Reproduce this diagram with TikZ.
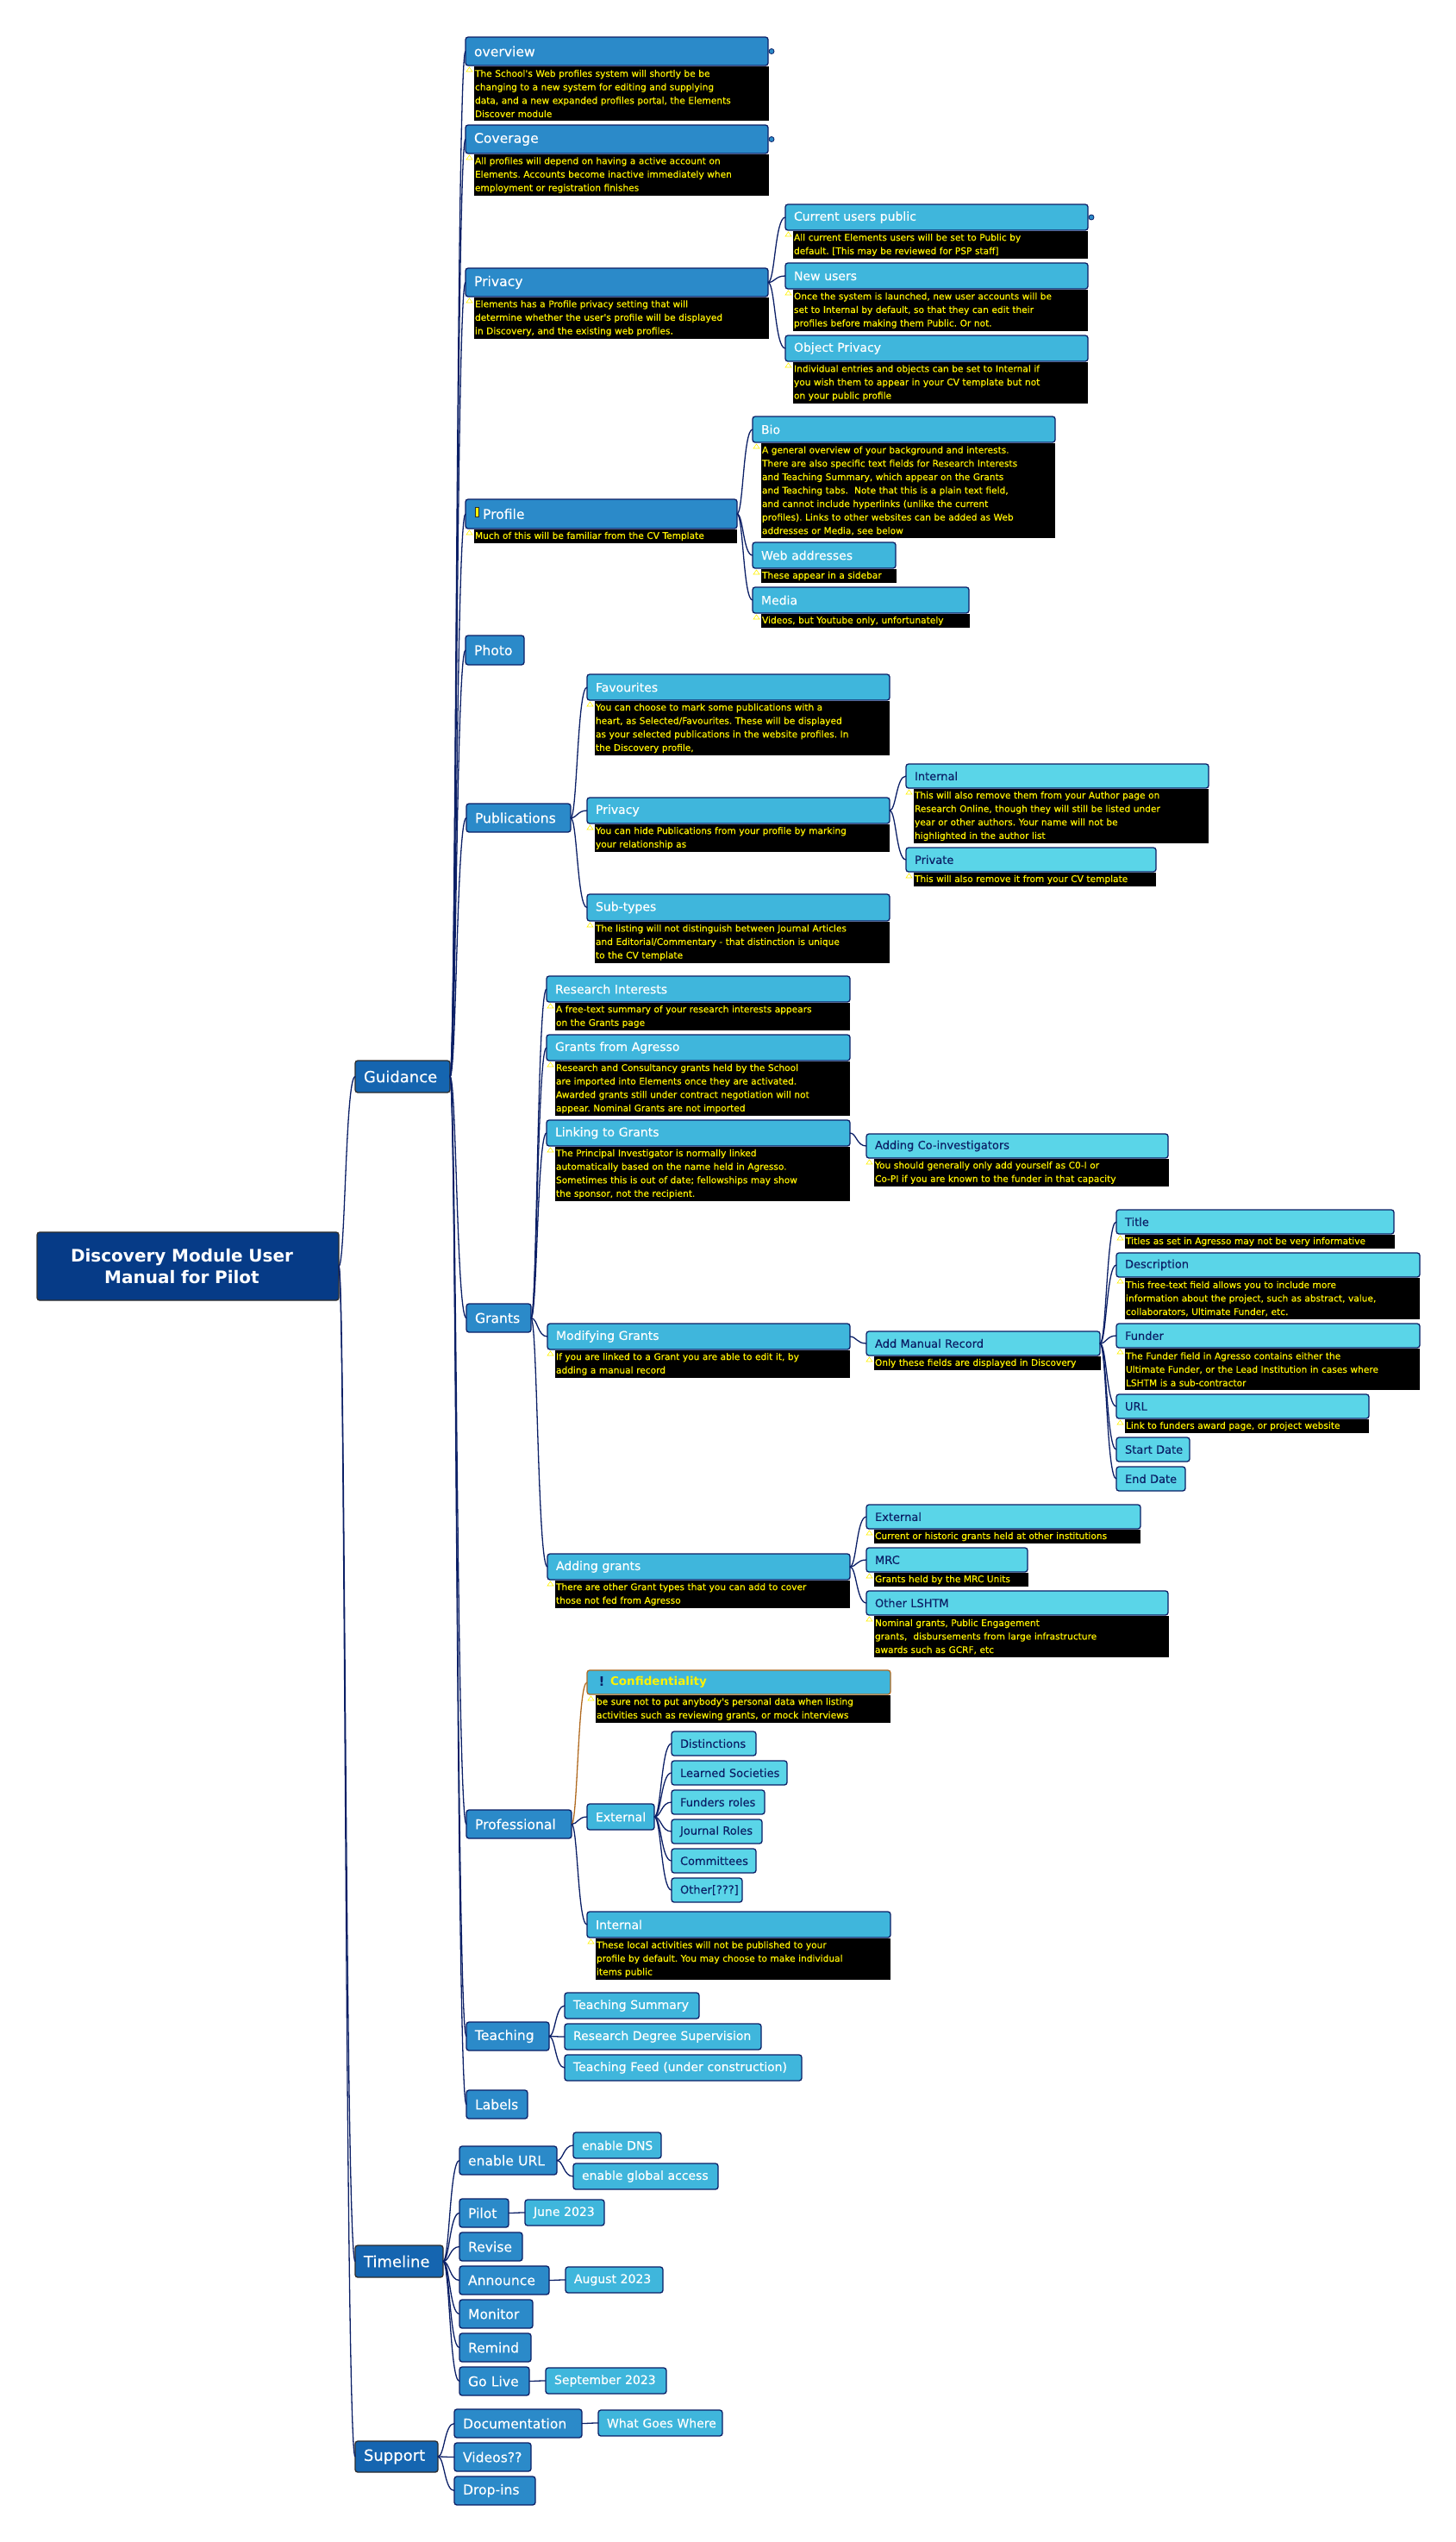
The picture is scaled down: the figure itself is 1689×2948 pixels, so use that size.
\documentclass[tikz,border=0pt]{standalone}
\usepackage{fontspec}
\setmainfont{DejaVu Sans}
\newfontfamily\notefont[FakeBold=0.35]{DejaVu Sans}
\newfontfamily\labelfont[FakeBold=0.2]{DejaVu Sans}
\usetikzlibrary{calc}
\frenchspacing
\definecolor{rootblue}{HTML}{063B87}
\definecolor{mainblue}{HTML}{1565B0}
\definecolor{topicblue}{HTML}{2B8AC9}
\definecolor{subblue}{HTML}{3FB6DC}
\definecolor{leafblue}{HTML}{5AD5E8}
\definecolor{edgenavy}{HTML}{0B1F66}
\definecolor{edgegrey}{HTML}{2C2C2C}
\definecolor{warnbrown}{HTML}{B06A20}
\tikzstyle{anybox} = [rounded corners=3pt, line width=1.3pt, anchor=north west, outer sep=0pt,
    inner xsep=2pt, inner ysep=0pt, align=left, execute at begin node={\hspace*{8pt}}]
\tikzstyle{rootbox} = [anybox, draw=edgegrey, fill=rootblue, text=white, execute at begin node={},
    font=\fontsize{20}{25}\selectfont\bfseries, align=center]
\tikzstyle{mainbox} = [anybox, draw=edgegrey, fill=mainblue, text=white, font=\labelfont\fontsize{18}{22}\selectfont]
\tikzstyle{topicbox} = [anybox, draw=edgenavy, fill=topicblue, text=white, font=\labelfont\fontsize{15.6}{19}\selectfont]
\tikzstyle{subbox} = [anybox, draw=edgenavy, fill=subblue, text=white, font=\labelfont\fontsize{14}{18}\selectfont]
\tikzstyle{leafbox} = [anybox, draw=edgenavy, fill=leafblue, text=edgenavy, font=\labelfont\fontsize{13}{17}\selectfont]
\tikzstyle{notebox} = [anchor=north west, outer sep=0pt, fill=black, text=yellow, inner xsep=1pt, inner ysep=0pt,
    align=left, font=\notefont\fontsize{10.6}{15.6}\selectfont]
\tikzstyle{link} = [draw=edgenavy, line width=1.3pt, to path={let \p1=(\tikztostart), \p2=(\tikztotarget),
    \n1={\x1+0.4*(\x2-\x1)} in .. controls (\n1,\y1) and (\n1,\y2) .. (\tikztotarget)}]
\tikzset{
    bx/.style 2 args={text width=#1pt-4pt, minimum height=#2pt},
    nb/.style 2 args={text width=#1pt-2pt, minimum height=#2pt},
}
\begin{document}
\begin{tikzpicture}[x=1pt, y=1pt]
    \useasboundingbox (0,0) rectangle (1689,-2948);
    % first level
    \node[rootbox, bx={350}{79}] (root) at (43,-1429) {Discovery Module User\kern22pt\\Manual for Pilot\kern14pt};
    \node[mainbox, bx={110}{37}] (guidance) at (412,-1230) {Guidance};
    \node[mainbox, bx={102}{37}] (timeline) at (412,-2604) {Timeline};
    \node[mainbox, bx={96}{36}] (support) at (412,-2831) {Support};
    % guidance
    \node[topicbox, bx={351}{33}] (overview) at (540,-43) {overview};
    \node[notebox, nb={342}{63}] (overviewnote) at (550,-77) {The School's Web profiles system will shortly be be\\changing to a new system for editing and supplying\\data, and a new expanded profiles portal, the Elements\\Discover module};
    \node[topicbox, bx={351}{33}] (coverage) at (540,-145) {Coverage};
    \node[notebox, nb={342}{48}] (coveragenote) at (550,-179) {All profiles will depend on having a active account on\\Elements. Accounts become inactive immediately when\\employment or registration finishes};
    \node[topicbox, bx={351}{33}] (privacy) at (540,-311) {Privacy};
    \node[notebox, nb={342}{48}] (privacynote) at (550,-345) {Elements has a Profile privacy setting that will\\determine whether the user's profile will be displayed\\in Discovery, and the existing web profiles.};
    \node[subbox, bx={351}{30}] (current) at (911,-237) {Current users public};
    \node[notebox, nb={342}{32}] (currentnote) at (920,-268) {All current Elements users will be set to Public by\\default. [This may be reviewed for PSP staff]};
    \node[subbox, bx={351}{30}] (newusers) at (911,-305) {New users};
    \node[notebox, nb={342}{48}] (newusersnote) at (920,-336) {Once the system is launched, new user accounts will be\\set to Internal by default, so that they can edit their\\profiles before making them Public. Or not.};
    \node[subbox, bx={351}{30}] (objprivacy) at (911,-389) {Object Privacy};
    \node[notebox, nb={342}{48}] (objprivacynote) at (920,-420) {Individual entries and objects can be set to Internal if\\you wish them to appear in your CV template but not\\on your public profile};
    \node[topicbox, bx={315}{34}] (profile) at (540,-579) {\hspace*{10pt}Profile};
    \node[notebox, nb={305}{16}] (profilenote) at (550,-614) {Much of this will be familiar from the CV Template};
    \node[subbox, bx={351}{30}] (bio) at (873,-483) {Bio};
    \node[notebox, nb={341}{110}] (bionote) at (883,-514) {A general overview of your background and interests.\\There are also specific text fields for Research Interests\\and Teaching Summary, which appear on the Grants\\and Teaching tabs.\ \ Note that this is a plain text field,\\and cannot include hyperlinks (unlike the current\\profiles). Links to other websites can be added as Web\\addresses or Media, see below};
    \node[subbox, bx={166}{30}] (webaddr) at (873,-629) {Web addresses};
    \node[notebox, nb={157}{16}] (webaddrnote) at (883,-660) {These appear in a sidebar};
    \node[subbox, bx={251}{30}] (media) at (873,-681) {Media};
    \node[notebox, nb={242}{16}] (medianote) at (883,-712) {Videos, but Youtube only, unfortunately};
    \node[topicbox, bx={68}{34}] (photo) at (540,-737) {Photo};
    \node[topicbox, bx={121}{33}] (publications) at (541,-932) {Publications};
    \node[subbox, bx={351}{30}] (favourites) at (681,-782) {Favourites};
    \node[notebox, nb={342}{63}] (favouritesnote) at (690,-813) {You can choose to mark some publications with a\\heart, as Selected/Favourites. These will be displayed\\as your selected publications in the website profiles. In\\the Discovery profile,};
    \node[subbox, bx={351}{30}] (pubprivacy) at (681,-925) {Privacy};
    \node[notebox, nb={342}{32}] (pubprivacynote) at (690,-956) {You can hide Publications from your profile by marking\\your relationship as};
    \node[leafbox, bx={351}{28}] (pubinternal) at (1051,-886) {Internal};
    \node[notebox, nb={342}{63}] (pubinternalnote) at (1060,-915) {This will also remove them from your Author page on\\Research Online, though they will still be listed under\\year or other authors. Your name will not be\\highlighted in the author list};
    \node[leafbox, bx={290}{28}] (pubprivate) at (1051,-983) {Private};
    \node[notebox, nb={281}{16}] (pubprivatenote) at (1060,-1012) {This will also remove it from your CV template};
    \node[subbox, bx={351}{31}] (subtypes) at (681,-1037) {Sub-types};
    \node[notebox, nb={342}{48}] (subtypesnote) at (690,-1069) {The listing will not distinguish between Journal Articles\\and Editorial/Commentary - that distinction is unique\\to the CV template};
    % grants
    \node[topicbox, bx={75}{33}] (grants) at (541,-1512) {Grants};
    \node[subbox, bx={352}{30}] (interests) at (634,-1132) {Research Interests};
    \node[notebox, nb={342}{32}] (interestsnote) at (644,-1163) {A free-text summary of your research interests appears\\on the Grants page};
    \node[subbox, bx={352}{30}] (agresso) at (634,-1200) {Grants from Agresso};
    \node[notebox, nb={342}{63}] (agressonote) at (644,-1231) {Research and Consultancy grants held by the School\\are imported into Elements once they are activated.\\Awarded grants still under contract negotiation will not\\appear. Nominal Grants are not imported};
    \node[subbox, bx={352}{30}] (linking) at (634,-1299) {Linking to Grants};
    \node[notebox, nb={342}{63}] (linkingnote) at (644,-1330) {The Principal Investigator is normally linked\\automatically based on the name held in Agresso.\\Sometimes this is out of date; fellowships may show\\the sponsor, not the recipient.};
    \node[leafbox, bx={350}{28}] (coinvest) at (1005,-1315) {Adding Co-investigators};
    \node[notebox, nb={342}{32}] (coinvestnote) at (1014,-1344) {You should generally only add yourself as C0-I or\\Co-PI if you are known to the funder in that capacity};
    \node[subbox, bx={351}{30}] (modifying) at (635,-1535) {Modifying Grants};
    \node[notebox, nb={342}{32}] (modifyingnote) at (644,-1566) {If you are linked to a Grant you are able to edit it, by\\adding a manual record};
    \node[leafbox, bx={271}{28}] (manual) at (1005,-1544) {Add Manual Record};
    \node[notebox, nb={263}{16}] (manualnote) at (1014,-1573) {Only these fields are displayed in Discovery};
    \node[leafbox, bx={322}{28}] (title) at (1295,-1403) {Title};
    \node[notebox, nb={313}{16}] (titlenote) at (1305,-1432) {Titles as set in Agresso may not be very informative};
    \node[leafbox, bx={352}{28}] (description) at (1295,-1453) {Description};
    \node[notebox, nb={342}{48}] (descriptionnote) at (1305,-1482) {This free-text field allows you to include more\\information about the project, such as abstract, value,\\collaborators, Ultimate Funder, etc.};
    \node[leafbox, bx={352}{28}] (funder) at (1295,-1535) {Funder};
    \node[notebox, nb={342}{48}] (fundernote) at (1305,-1564) {The Funder field in Agresso contains either the\\Ultimate Funder, or the Lead Institution in cases where\\LSHTM is a sub-contractor};
    \node[leafbox, bx={293}{28}] (url) at (1295,-1617) {URL};
    \node[notebox, nb={283}{16}] (urlnote) at (1305,-1646) {Link to funders award page, or project website};
    \node[leafbox, bx={85}{28}] (startdate) at (1295,-1667) {Start Date};
    \node[leafbox, bx={80}{28}] (enddate) at (1295,-1701) {End Date};
    \node[subbox, bx={351}{30}] (adding) at (635,-1802) {Adding grants};
    \node[notebox, nb={342}{32}] (addingnote) at (644,-1833) {There are other Grant types that you can add to cover\\those not fed from Agresso};
    \node[leafbox, bx={318}{28}] (external) at (1005,-1745) {External};
    \node[notebox, nb={309}{16}] (externalnote) at (1014,-1774) {Current or historic grants held at other institutions};
    \node[leafbox, bx={187}{28}] (mrc) at (1005,-1795) {MRC};
    \node[notebox, nb={179}{16}] (mrcnote) at (1014,-1824) {Grants held by the MRC Units};
    \node[leafbox, bx={350}{28}] (lshtm) at (1005,-1845) {Other LSHTM};
    \node[notebox, nb={342}{48}] (lshtmnote) at (1014,-1874) {Nominal grants, Public Engagement\\grants,\ \ disbursements from large infrastructure\\awards such as GCRF, etc};
    % professional
    \node[topicbox, bx={122}{33}] (professional) at (541,-2099) {Professional};
    \node[subbox, bx={352}{28}, draw=warnbrown, text=yellow, font=\fontsize{13.5}{17}\selectfont\bfseries] (confidential) at (681,-1937) {\hspace*{17pt}Confidentiality};
    \node[notebox, nb={342}{32}] (confidentialnote) at (691,-1966) {be sure not to put anybody's personal data when listing\\activities such as reviewing grants, or mock interviews};
    \node[subbox, bx={78}{30}] (extprof) at (681,-2092) {External};
    \node[leafbox, bx={98}{28}] (distinctions) at (779,-2008) {Distinctions};
    \node[leafbox, bx={134}{28}] (learned) at (779,-2042) {Learned Societies};
    \node[leafbox, bx={108}{28}] (funders) at (779,-2076) {Funders roles};
    \node[leafbox, bx={105}{28}] (journal) at (779,-2110) {Journal Roles};
    \node[leafbox, bx={98}{28}] (committees) at (779,-2144) {Committees};
    \node[leafbox, bx={82}{28}] (otherq) at (779,-2178) {Other[???]};
    \node[subbox, bx={352}{30}] (intprof) at (681,-2217) {Internal};
    \node[notebox, nb={342}{48}] (intprofnote) at (691,-2248) {These local activities will not be published to your\\profile by default. You may choose to make individual\\items public};
    % teaching and labels
    \node[topicbox, bx={96}{33}] (teaching) at (541,-2345) {Teaching};
    \node[subbox, bx={156}{30}] (summary) at (655,-2311) {Teaching Summary};
    \node[subbox, bx={228}{30}] (degree) at (655,-2347) {Research Degree Supervision};
    \node[subbox, bx={275}{30}] (feed) at (655,-2383) {Teaching Feed (under construction)};
    \node[topicbox, bx={71}{33}] (labels) at (541,-2424) {Labels};
    % timeline
    \node[topicbox, bx={113}{33}] (enableurl) at (533,-2489) {enable URL};
    \node[subbox, bx={102}{30}] (dns) at (665,-2473) {enable DNS};
    \node[subbox, bx={168}{30}] (access) at (665,-2509) {enable global access};
    \node[topicbox, bx={57}{33}] (pilot) at (533,-2550) {Pilot};
    \node[subbox, bx={92}{30}] (june) at (609,-2551) {June 2023};
    \node[topicbox, bx={73}{33}] (revise) at (533,-2589) {Revise};
    \node[topicbox, bx={104}{33}] (announce) at (533,-2628) {Announce};
    \node[subbox, bx={113}{30}] (august) at (656,-2629) {August 2023};
    \node[topicbox, bx={85}{33}] (monitor) at (533,-2667) {Monitor};
    \node[topicbox, bx={83}{33}] (remind) at (533,-2706) {Remind};
    \node[topicbox, bx={81}{33}] (golive) at (533,-2745) {Go Live};
    \node[subbox, bx={140}{30}] (september) at (633,-2746) {September 2023};
    % support
    \node[topicbox, bx={148}{33}] (documentation) at (527,-2794) {Documentation};
    \node[subbox, bx={144}{30}] (wheres) at (694,-2795) {What Goes Where};
    \node[topicbox, bx={89}{33}] (videos) at (527,-2833) {Videos??};
    \node[topicbox, bx={94}{33}] (dropins) at (527,-2872) {Drop-ins};
    % icons on the topics
    \draw[fill=yellow, draw=edgegrey, line width=.5pt] (551,-588) rectangle (555,-599);
    \node[text=edgenavy, font=\fontsize{15}{15}\selectfont\bfseries, inner sep=0pt] (bang) at (698,-1950) {!};
    \foreach \kid in {overview,coverage,current}
        \draw[fill=topicblue, draw=edgenavy, line width=.8pt] (\kid.east) ++(4,0) circle (3);
    \foreach \kid in {overviewnote,coveragenote,privacynote,currentnote,newusersnote,objprivacynote,profilenote,bionote,webaddrnote,medianote,favouritesnote,pubprivacynote,pubinternalnote,pubprivatenote,subtypesnote,interestsnote,agressonote,linkingnote,coinvestnote,modifyingnote,manualnote,titlenote,descriptionnote,fundernote,urlnote,addingnote,externalnote,mrcnote,lshtmnote,confidentialnote,intprofnote}
        \draw[draw=yellow, line width=.6pt] (\kid.north west) ++(-9,-6) -- ++(7,0) -- ++(-3.5,5) -- cycle;
    % connectors
    \foreach \kid in {guidance,timeline,support}
        \draw[link] (root.east) to (\kid.west);
    \foreach \kid in {overview,coverage,privacy,profile,photo,publications,grants,professional,teaching,labels}
        \draw[link] (guidance.east) to (\kid.west);
    \foreach \kid in {current,newusers,objprivacy}
        \draw[link] (privacy.east) to (\kid.west);
    \foreach \kid in {bio,webaddr,media}
        \draw[link] (profile.east) to (\kid.west);
    \foreach \kid in {favourites,pubprivacy,subtypes}
        \draw[link] (publications.east) to (\kid.west);
    \foreach \kid in {pubinternal,pubprivate}
        \draw[link] (pubprivacy.east) to (\kid.west);
    \foreach \kid in {interests,agresso,linking,modifying,adding}
        \draw[link] (grants.east) to (\kid.west);
    \draw[link] (linking.east) to (coinvest.west);
    \draw[link] (modifying.east) to (manual.west);
    \foreach \kid in {title,description,funder,url,startdate,enddate}
        \draw[link] (manual.east) to (\kid.west);
    \foreach \kid in {external,mrc,lshtm}
        \draw[link] (adding.east) to (\kid.west);
    \draw[link, draw=warnbrown] (professional.east) to (confidential.west);
    \foreach \kid in {extprof,intprof}
        \draw[link] (professional.east) to (\kid.west);
    \foreach \kid in {distinctions,learned,funders,journal,committees,otherq}
        \draw[link] (extprof.east) to (\kid.west);
    \foreach \kid in {summary,degree,feed}
        \draw[link] (teaching.east) to (\kid.west);
    \foreach \kid in {enableurl,pilot,revise,announce,monitor,remind,golive}
        \draw[link] (timeline.east) to (\kid.west);
    \foreach \kid in {dns,access}
        \draw[link] (enableurl.east) to (\kid.west);
    \draw[link] (pilot.east) to (june.west);
    \draw[link] (announce.east) to (august.west);
    \draw[link] (golive.east) to (september.west);
    \foreach \kid in {documentation,videos,dropins}
        \draw[link] (support.east) to (\kid.west);
    \draw[link] (documentation.east) to (wheres.west);
\end{tikzpicture}
\end{document}
